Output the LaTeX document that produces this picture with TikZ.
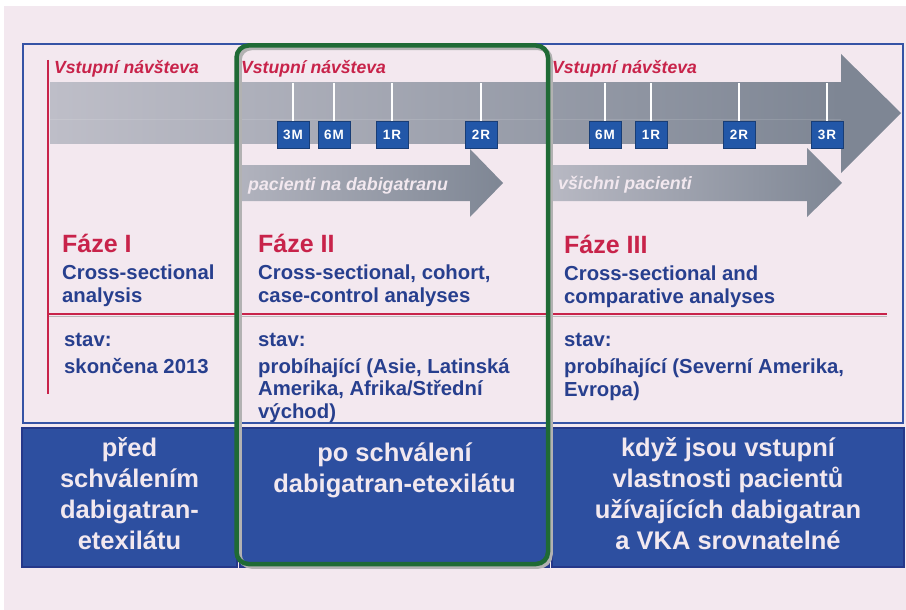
\documentclass[tikz,border=0pt]{standalone}
\usepackage{fontspec}
\setmainfont{Liberation Sans}
\usepackage{tikz}
\definecolor{pagepink}{HTML}{F3E8EF}
\definecolor{frameblue}{HTML}{3553A5}
\definecolor{visitred}{HTML}{C8234A}
\definecolor{textblue}{HTML}{273F8E}
\definecolor{boxblue}{HTML}{2D4FA0}
\definecolor{boxedge}{HTML}{25388A}
\definecolor{markblue}{HTML}{2257A8}
\definecolor{studygreen}{HTML}{1F6A35}
\definecolor{barlight}{HTML}{BEBEC8}
\definecolor{bardark}{HTML}{7E8694}
\definecolor{paletext}{HTML}{F2E8EF}
\tikzset{
  visit/.style={anchor=base west, inner sep=0pt, text=visitred, font=\fontsize{17.6}{20}\selectfont\bfseries\itshape},
  phase/.style={anchor=base west, inner sep=0pt, text=visitred, font=\fontsize{25}{30}\selectfont\bfseries},
  body/.style={anchor=base west, inner sep=0pt, align=left, text=textblue, font=\fontsize{20.3}{22.5}\selectfont\bfseries},
  marker/.style={fill=markblue, draw=markblue!70!black, line width=0.6pt, minimum width=32pt, minimum height=27pt, inner sep=0pt, text=white, font=\fontsize{13.5}{14}\selectfont\bfseries},
  groupbox/.style={fill=boxblue, draw=boxedge, line width=1.5pt, inner sep=0pt},
  grouptext/.style={anchor=base, align=center, inner sep=0pt, text=paletext, font=\fontsize{25.5}{30.7}\selectfont\bfseries},
  arrowtext/.style={anchor=base west, inner sep=0pt, text=paletext, font=\fontsize{17.8}{20}\selectfont\bfseries\itshape},
}

\begin{document}
\begin{tikzpicture}[x=1pt,y=-1pt]
  \useasboundingbox (0,0) rectangle (906,610);
  \fill[pagepink] (4,6) rectangle (906,610);
  \draw[frameblue, line width=1.8pt] (23,44) rectangle (903,423);

  \coordinate (bartop) at (0,83);

  % time axis
  \shade[left color=barlight, right color=bardark] (50,83) rectangle (841,143);
  \fill[bardark] (841,54) -- (901,113) -- (841,173) -- cycle;
  \draw[white, opacity=0.12] (50,119) -- (841,119);

  \foreach \x / \lab [count=\i] in
  {
    293/3\hspace{1pt}M, 334/6\hspace{1pt}M, 392/1\hspace{1pt}R, 481/2\hspace{1pt}R,
    605/6\hspace{1pt}M, 651/1\hspace{1pt}R, 739/2\hspace{1pt}R, 827/3\hspace{1pt}R
  }
  {
    \node[marker] (m\i) at (\x,134.5) {\lab};
    \draw[white, line width=2pt] (m\i.north) -- (m\i.north |- bartop);
  }

  \shade[left color=barlight!80!bardark, right color=bardark]
    (240,165) -- (470,165) -- (470,149) -- (503,183) -- (470,217) -- (470,201) -- (240,201) -- cycle;
  \shade[left color=barlight!90!bardark, right color=bardark]
    (552,165) -- (807,165) -- (807,148) -- (842,183) -- (807,217) -- (807,201) -- (552,201) -- cycle;
  \node[arrowtext] (onDabi) at (248,190) {pacienti na dabigatranu};
  \node[arrowtext] (allPat) at (558,189) {všichni pacienti};

  \draw[gray!55, line width=1.5pt] (48,316.5) -- (887,316.5);
  \draw[visitred, line width=2.5pt] (48,60) -- (48,394);
  \draw[visitred, line width=2.5pt] (48,314) -- (887,314);

  \node[visit] (visitA) at (54,74) {Vstupní návšteva};
  \node[visit] (visitB) at (241,74) {Vstupní návšteva};
  \node[visit] (visitC) at (552,74) {Vstupní návšteva};

  \node[phase] (phaseA) at (62,252) {Fáze I};
  \node[phase] (phaseB) at (258,252) {Fáze II};
  \node[phase] (phaseC) at (564,253) {Fáze III};

  \node[body] (methA) at (62,302) {Cross-sectional\\analysis};
  \node[body] (methB) at (258,302) {Cross-sectional, cohort,\\case-control analyses};
  \node[body] (methC) at (564,303) {Cross-sectional and\\comparative analyses};

  \node[body] (stavA) at (64,346) {stav:};
  \node[body] (stavB) at (258,346) {stav:};
  \node[body] (stavC) at (564,346) {stav:};

  \node[body] (doneA) at (64,373) {skončena 2013};
  \node[body] (doneB) at (258,418) {probíhající (Asie, Latinská\\Amerika, Afrika/Střední\\východ)};
  \node[body] (doneC) at (564,396) {probíhající (Severní Amerika,\\Evropa)};

  % bottom row
  \node[groupbox, minimum width=215pt, minimum height=139pt] (before) at (129.5,497.5) {};
  \node[groupbox, minimum width=309pt, minimum height=139pt] (after) at (394.5,497.5) {};
  \node[groupbox, minimum width=352pt, minimum height=139pt] (alike) at (728,497.5) {};
  \node[grouptext] (beforeTxt) at (129.5,549) {před\\schválením\\dabigatran-\\etexilátu};
  \node[grouptext] (afterTxt) at (394.5,492) {po schválení\\dabigatran-etexilátu};
  \node[grouptext] (alikeTxt) at (728,549) {když jsou vstupní\\vlastnosti pacientů\\užívajících dabigatran\\a VKA srovnatelné};

  \draw[gray!60, line width=4.5pt, rounded corners=12pt] (239.5,48) rectangle (550.5,566.5);
  \draw[studygreen, line width=4.5pt, rounded corners=12pt] (236.5,45.5) rectangle (548,564);
\end{tikzpicture}
\end{document}
